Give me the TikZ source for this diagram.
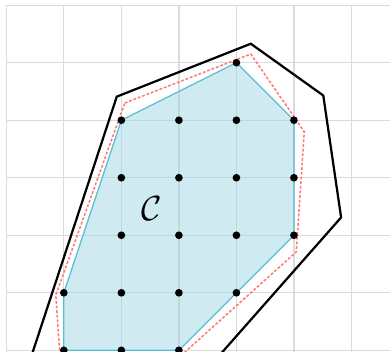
\documentclass[tikz,border=0pt]{standalone}
\usepackage{amsmath}
\definecolor{hullfill}{RGB}{160,214,228}
\definecolor{hullline}{RGB}{88,190,212}
\definecolor{offsetred}{RGB}{255,120,120}
\tikzset{
    gridline/.style={draw=gray!28, line width=0.6pt},
    outerpoly/.style={draw=black, line width=1.1pt, line join=miter},
    offsetpoly/.style={draw=offsetred, line width=0.75pt, dash pattern=on 1.4pt off 0.9pt},
    hullpoly/.style={fill=hullfill, fill opacity=0.5, draw=hullline, line width=0.6pt},
    latpoint/.style={fill=black}
}
\begin{document}
\begin{tikzpicture}
    % Define the visible window
    \useasboundingbox (-0.11,-0.02) rectangle (6.67,6.09);
    \clip (-0.11,-0.02) rectangle (6.67,6.09);

    % Draw the grid
    \draw[gridline] (0,-1) grid (7,6);

    % Define the vertices of the outer polygon
    \coordinate (P1) at (1.92,4.41);
    \coordinate (P2) at (4.25,5.33);
    \coordinate (P3) at (5.51,4.43);
    \coordinate (P4) at (5.82,2.31);
    \coordinate (P5) at (2.90,-1);
    \coordinate (P6) at (0.14,-1);

    % Define the vertices of the convex hull
    \coordinate (H1) at (2,4);
    \coordinate (H2) at (4,5);
    \coordinate (H3) at (5,4);
    \coordinate (H4) at (5,2);
    \coordinate (H5) at (4,1);
    \coordinate (H6) at (3,0);
    \coordinate (H7) at (1,0);
    \coordinate (H8) at (1,1);

    % Define the vertices of the dashed polygon
    \coordinate (Q1) at (2.06,4.30);
    \coordinate (Q2) at (4.25,5.15);
    \coordinate (Q3) at (5.18,3.80);
    \coordinate (Q4) at (5.04,1.71);
    \coordinate (Q5) at (2.75,-0.35);
    \coordinate (Q6) at (0.95,-0.35);
    \coordinate (Q7) at (0.86,0.96);

    % Draw the convex hull
    \filldraw[hullpoly] (H1) -- (H2) -- (H3) -- (H4) -- (H5) -- (H6) -- (H7) -- (H8) -- cycle;

    % Draw the dashed polygon
    \draw[offsetpoly] (Q1) -- (Q2) -- (Q3) -- (Q4) -- (Q5) -- (Q6) -- (Q7) -- cycle;

    % Draw the outer polygon
    \draw[outerpoly] (P1) -- (P2) -- (P3) -- (P4) -- (P5) -- (P6) -- cycle;

    % Lattice points
    \foreach \x in {1,2,3}
        \fill[latpoint] (\x,0) circle (1.9pt);
    \foreach \x in {1,2,3,4}
        \fill[latpoint] (\x,1) circle (1.9pt);
    \foreach \y in {2,3,4}
        \foreach \x in {2,3,4,5}
            \fill[latpoint] (\x,\y) circle (1.9pt);
    \fill[latpoint] (4,5) circle (1.9pt);

    % Label the set
    \node (lblC) at (2.53,2.47) {\LARGE$\mathcal{C}$};

\end{tikzpicture}
\end{document}
